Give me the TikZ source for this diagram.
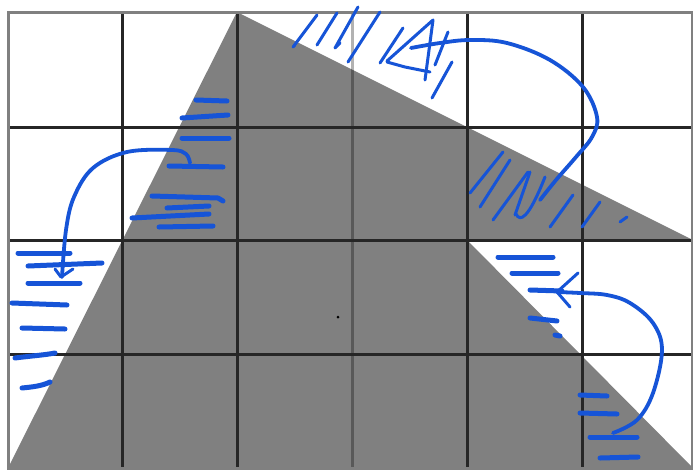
\documentclass[tikz,border=0pt]{standalone}
\begin{document}
\definecolor{ink}{RGB}{22,84,215}
\definecolor{greyfill}{RGB}{128,128,128}
\begin{tikzpicture}[x=1pt,y=-1pt,
  gridln/.style={draw=black!85, line width=3pt},
  outerln/.style={draw=black!50, line width=3pt},
  pen/.style={draw=ink, line width=5pt, line cap=round, line join=round},
  hatch/.style={draw=ink, line width=3pt, line cap=round, line join=round},
  curve/.style={draw=ink, line width=3.8pt, line cap=round, line join=round}]
\useasboundingbox (0,0) rectangle (693,472);
\fill[white] (0,0) rectangle (693,472);
% grey shape
\fill[fill=greyfill] (237,12) -- (693,240) -- (467,240) -- (693,468) -- (8,468) -- cycle;
% grid
\foreach \x in {122,237,467,582} \draw[gridln] (\x,12) -- (\x,468);
\draw[black, opacity=0.3, line width=3pt] (352,12) -- (352,468);
\foreach \y in {127,240,354} \draw[gridln] (8,\y) -- (692,\y);
\draw[outerln] (8,12) rectangle (692,468);
% dot
\fill[black] (338,317) circle (1.5);

% upper-left strokes
\draw[pen] (196,100) -- (227,101);
\draw[pen] (182,118) -- (228,115);
\draw[pen] (182,138) -- (229,138);
\draw[pen] (169,166) -- (223,167);
\draw[pen] (152,196) -- (218,198) -- (223,201);
\draw[pen] (167,208) -- (209,206);
\draw[pen] (132,218) -- (209,214);
\draw[pen] (159,227) -- (213,226);
% left arc with arrowhead
\draw[curve] plot[smooth, tension=0.6] coordinates {(190,163) (186,154) (172,150) (127,152) (93,168) (74,197) (66,230) (62,277)};
\draw[hatch] (55,269) -- (61,277) -- (73,269);
% lower-left strokes
\draw[pen] (18,253) -- (70,253);
\draw[pen] (28,266) -- (102,263);
\draw[pen] (28,283) -- (80,283);
\draw[pen] (12,303) -- (67,305);
\draw[pen] (22,328) -- (65,329);
\draw[pen] (15,358) .. controls (30,356) and (45,355) .. (55,353);
\draw[pen] (22,388) .. controls (32,387) and (42,386) .. (50,382);

% top hatching
\draw[hatch] (295,45) -- (293,47) -- (317,15);
\draw[hatch] (317,45) -- (337,13);
\draw[hatch] (340,43) -- (335,48) -- (358,7);
\draw[hatch] (348,62) -- (380,12);
\draw[hatch] (380,63) -- (403,28);
\draw[hatch] (387,61) -- (433,20) -- (425,80);
\draw[hatch] (387,62) -- (405,67) -- (430,72);
\draw[hatch] (448,32) -- (435,65);
\draw[hatch] (452,62) -- (432,98);
% top-right arc
\draw[curve] plot[smooth, tension=0.6] coordinates {(540,200) (556,180) (576,157) (592,137) (597,117) (583,87) (550,60) (507,43) (470,40) (440,43) (411,48)};
% middle-right hatching
\draw[hatch] (470,193) -- (503,152);
\draw[hatch] (480,207) -- (510,160);
\draw[hatch] (493,220) -- (528,172);
\draw[hatch] (515,215) -- (530,172);
\draw[hatch] (516,214) .. controls (520,222) and (528,220) .. (545,177);
\draw[hatch] (550,227) -- (573,195);
\draw[hatch] (582,227) -- (600,202);
\draw[hatch] (620,222) -- (627,217);

% bottom-right strokes
\draw[pen] (498,257) -- (553,257);
\draw[pen] (512,273) -- (558,273);
\draw[pen] (530,290) -- (562,291);
\draw[pen] (530,318) -- (557,321);
\draw[pen] (555,335) -- (560,336);
\draw[pen] (580,395) -- (607,396);
\draw[pen] (580,413) -- (617,414);
\draw[pen] (590,437) -- (637,437);
\draw[pen] (600,458) -- (638,457);
% bottom-right arc with arrowhead
\draw[curve] plot[smooth, tension=0.6] coordinates {(613,433) (637,420) (653,393) (662,350) (653,323) (630,303) (607,295) (580,293) (557,292)};
\draw[hatch] (578,273) -- (557,292) -- (570,307);
\end{tikzpicture}
\end{document}
